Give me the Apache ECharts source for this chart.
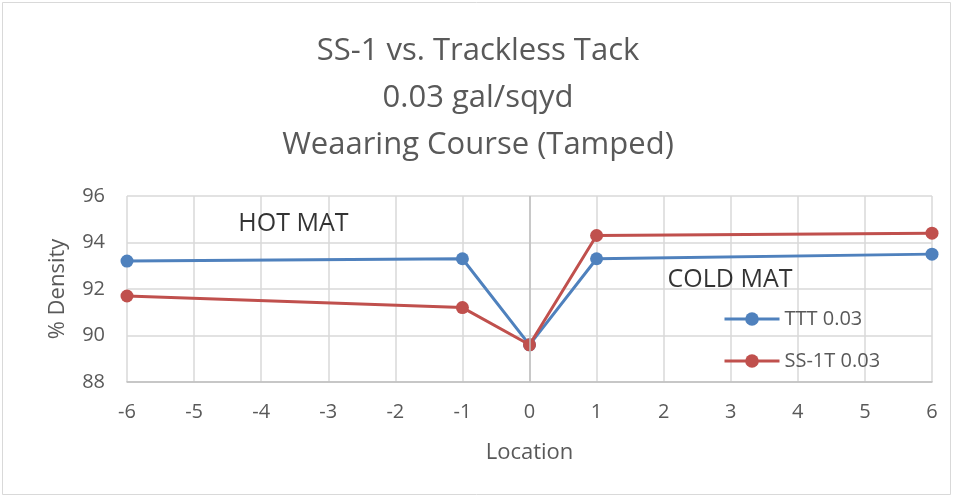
<!DOCTYPE html>
<html><head><meta charset="utf-8">
<script src="https://cdn.jsdelivr.net/npm/echarts@6/dist/echarts.min.js"></script>
<style>html,body{margin:0;padding:0;background:#fff}#c{width:956px;height:498px}</style>
</head><body><div id="c"></div>
<script>
const titleLines = ['SS-1 vs. Trackless Tack', '0.03 gal/sqyd', 'Weaaring Course (Tamped)'];
const xName = 'Location';
const yName = '% Density';
const locations = [-6, -1, 0, 1, 6];
const tttValues = [93.2, 93.3, 89.6, 93.3, 93.5];
const ss1tValues = [91.7, 91.2, 89.6, 94.3, 94.4];
const seriesNames = ['TTT 0.03', 'SS-1T 0.03'];
const annotations = [{text: 'HOT MAT', x: -3.52, y: 94.78}, {text: 'COLD MAT', x: 2.99, y: 92.4}];
const xMin = -6, xMax = 6, xStep = 1;
const yMin = 88, yMax = 96, yStep = 2;

const font = '"Open Sans", "Noto Sans", sans-serif';
const chart = echarts.init(document.getElementById('c'));
const pairs = v => locations.map((x, i) => [x, v[i]]);
chart.setOption({
  backgroundColor: '#fff',
  animation: false,
  graphic: [{type: 'rect', shape: {x: 2.5, y: 2.5, width: 948, height: 492}, style: {fill: 'none', stroke: '#d9d9d9', lineWidth: 1}}],
  title: {
    text: titleLines.join('\n'), left: 'center', top: 23,
    textStyle: {fontFamily: font, fontWeight: 'normal', fontSize: 31, color: '#595959', lineHeight: 47}
  },
  grid: {left: 127, right: 24, top: 196, bottom: 116},
  legend: {
    orient: 'vertical', left: 718, top: 304, itemWidth: 55, itemHeight: 17, itemGap: 22,
    lineStyle: {width: 3},
    textStyle: {fontFamily: font, fontSize: 20, color: '#595959'},
    data: seriesNames
  },
  xAxis: {
    type: 'value', min: xMin, max: xMax, interval: xStep,
    name: xName, nameLocation: 'middle', nameGap: 60,
    nameTextStyle: {fontFamily: font, fontSize: 22, color: '#595959'},
    axisLine: {show: true, lineStyle: {color: '#bfbfbf', width: 1.5}},
    axisTick: {show: false},
    axisLabel: {fontFamily: font, fontSize: 20, color: '#595959', margin: 20},
    splitLine: {show: true, lineStyle: {color: '#d9d9d9', width: 1.5}}
  },
  yAxis: {
    type: 'value', min: yMin, max: yMax, interval: yStep,
    name: yName, nameLocation: 'middle', nameGap: 58, nameRotate: 90,
    nameTextStyle: {fontFamily: font, fontSize: 22, color: '#595959'},
    axisLine: {show: false}, axisTick: {show: false},
    axisLabel: {fontFamily: font, fontSize: 20, color: '#595959', margin: 22},
    splitLine: {show: true, lineStyle: {color: '#d9d9d9', width: 1.5}}
  },
  series: [
    {
      name: seriesNames[0], type: 'line', data: pairs(tttValues),
      symbol: 'circle', symbolSize: 13,
      itemStyle: {color: '#4f81bd'}, lineStyle: {color: '#4f81bd', width: 3},
      z: 3,
      markLine: {
        silent: true, symbol: 'none', label: {show: false},
        lineStyle: {color: '#bfbfbf', width: 1.5, type: 'solid'},
        data: [{xAxis: 0}]
      }
    },
    {
      name: seriesNames[1], type: 'line', data: pairs(ss1tValues),
      symbol: 'circle', symbolSize: 13,
      itemStyle: {color: '#c0504d'}, lineStyle: {color: '#c0504d', width: 3},
      z: 4
    },
    {
      type: 'scatter', silent: true, symbolSize: 0,
      data: annotations.map(a => ({value: [a.x, a.y], label: {show: true, formatter: a.text}})),
      label: {position: 'inside', fontFamily: font, fontSize: 25, color: '#000'},
      tooltip: {show: false}
    }
  ]
});
</script></body></html>
